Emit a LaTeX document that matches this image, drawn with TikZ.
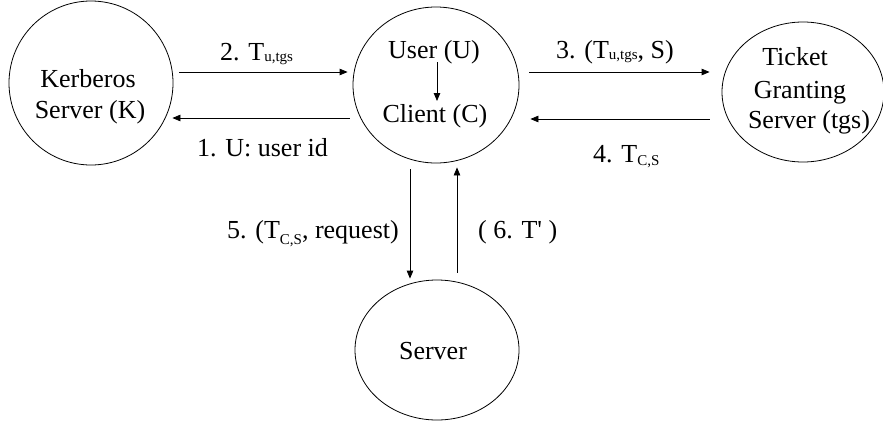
\documentclass[tikz,border=0pt]{standalone}
\usepackage{fontspec}
\setmainfont{Liberation Serif}
\newfontfamily\qfont{Liberation Serif}[Ligatures=TeXOff]
\usetikzlibrary{shapes.geometric,arrows.meta}
\newcommand{\subtxt}[2][2pt]{\raisebox{-#1}{\fontsize{15}{15}\selectfont #2}}
\begin{document}
\begin{tikzpicture}[x=1pt,y=-1pt,
  ell/.style={draw, ellipse, inner sep=0pt, line width=0.8pt},
  txt/.style={font=\fontsize{26}{31}\selectfont, inner sep=0pt, anchor=base},
  lab/.style={font=\fontsize{26}{31}\selectfont, inner sep=0pt, anchor=base west},
  arr/.style={-{Triangle[length=8pt,width=6.5pt]}, line width=0.8pt}]
\useasboundingbox (0,0) rectangle (883,421);
% ellipses
\node[ell, minimum width=164, minimum height=164] (K) at (91,83) {};
\node[ell, minimum width=166, minimum height=156] (C) at (436,85) {};
\node[ell, minimum width=162, minimum height=140] (T) at (803,92) {};
\node[ell, minimum width=164, minimum height=140] (S) at (437,350) {};
% texts inside
\node[txt] (kt1) at (88,87) {Kerberos};
\node[txt] (kt2) at (90,118) {Server (K)};
\node[txt] (ct1) at (434,58) {User (U)};
\node[txt] (ct2) at (435,122) {Client (C)};
\node[txt] (tt1) at (795,65) {Ticket};
\node[txt] (tt2) at (800,98) {Granting};
\node[txt] (tt3) at (809,128) {Server (tgs)};
\node[txt] (st) at (433,359) {Server};
% arrows
\draw[arr] ([shift={(6,-11)}]K.east) -- ([shift={(-5,-13)}]C.west);
\draw[arr] ([shift={(-3,33)}]C.west) -- ([shift={(-1,35)}]K.east);
\draw[arr] ([shift={(10,-13)}]C.east) -- ([shift={(-12,-20)}]T.west);
\draw[arr] ([shift={(-12,27)}]T.west) -- ([shift={(11,34)}]C.east);
\draw[arr] ([shift={(-26,6)}]C.south) -- ([shift={(-27,-1)}]S.north);
\draw[arr] ([shift={(20,-7)}]S.north) -- ([shift={(21,4)}]C.south);
\draw[arr] ([shift={(1,-23)}]C.center) -- ([shift={(1,16)}]C.center);
% labels
\node[lab] (l2) at (220,60) {2. T\subtxt[1pt]{u,tgs}};
\node[lab] (l1) at (197,156) {1. U: user id};
\node[lab] (l3) at (556,58) {3. (T\subtxt[1pt]{u,tgs}, S)};
\node[lab] (l4) at (593,162) {4. T\subtxt[3pt]{C,S}};
\node[lab] (l5) at (227,238) {5. (T\subtxt[6pt]{C,S}, request)};
\node[lab] (l6) at (478,238) {( 6. T{\qfont'} )};
\end{tikzpicture}
\end{document}
